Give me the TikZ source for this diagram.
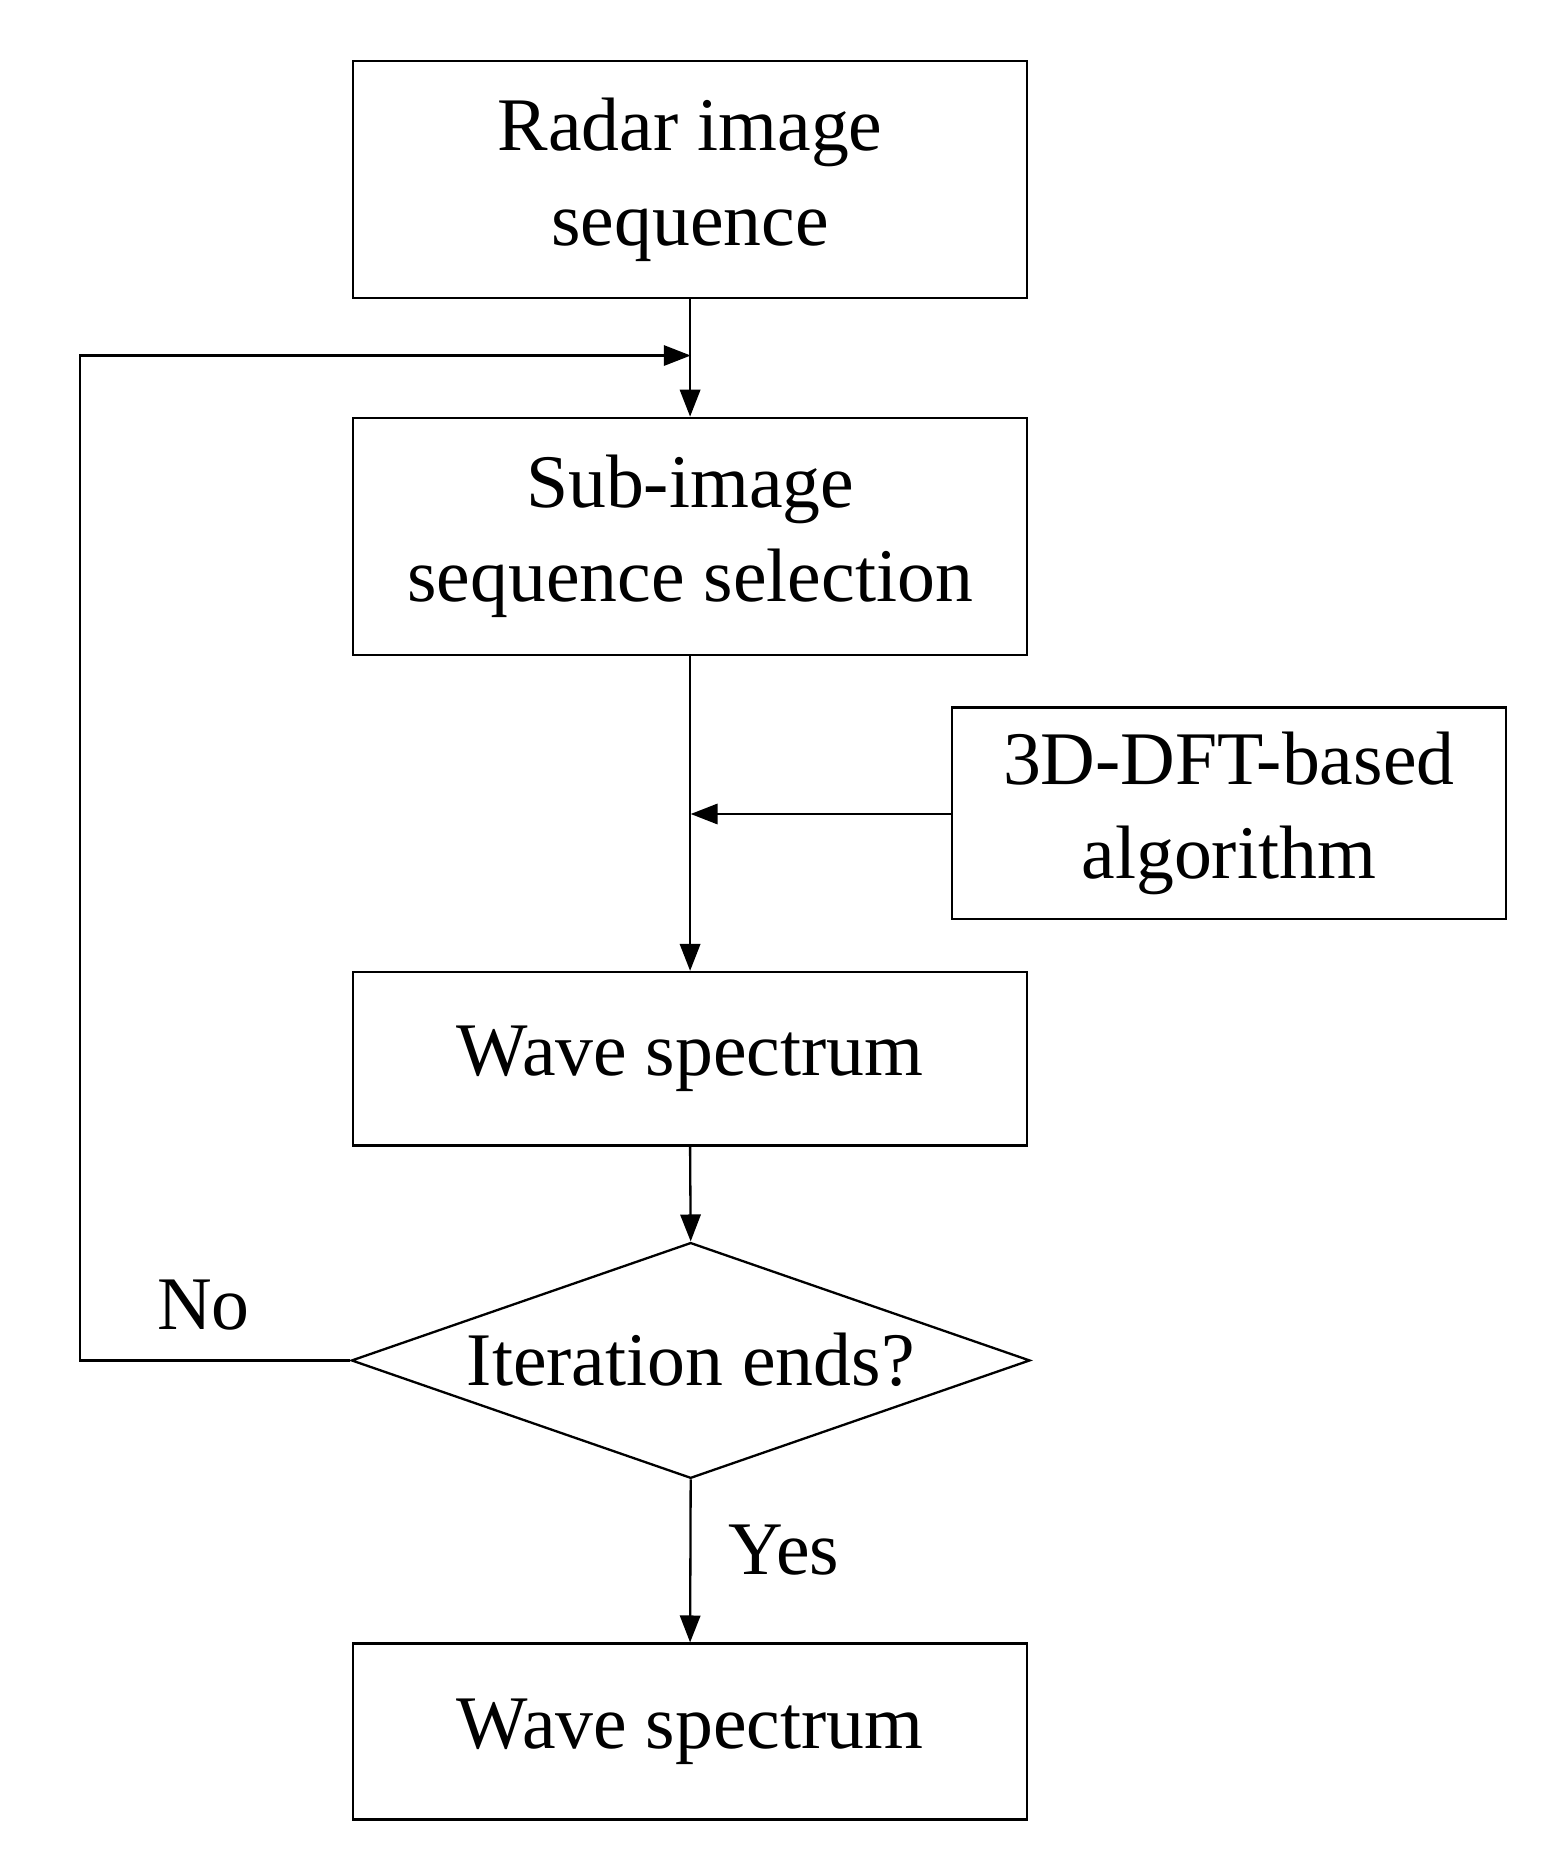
\documentclass[tikz,border=0pt]{standalone}
\usepackage{fontspec}
\setmainfont{Liberation Serif}
\usetikzlibrary{shapes.geometric,arrows.meta}
\begin{document}
\begin{tikzpicture}[x=0.02cm,y=-0.02cm,
  box/.style={draw,line width=1.1pt,inner sep=0pt,align=center,font=\fontsize{36}{45}\selectfont},
  lbl/.style={font=\fontsize{36}{45}\selectfont},
  arr/.style={line width=1.1pt,-{Triangle[length=0.45cm,width=0.34cm]}},
  ln/.style={line width=1.1pt}]
\useasboundingbox (0,0) rectangle (1301,1553);
\node[box,minimum width=11.26cm,minimum height=3.96cm] (b1) at (576.5,150) {Radar image\\sequence};
\node[box,minimum width=11.26cm,minimum height=3.96cm] (b2) at (576.5,448) {Sub-image\\sequence selection};
\node[box,minimum width=9.26cm,minimum height=3.54cm] (b3d) at (1026.5,679.5) {3D-DFT-based\\algorithm};
\node[box,minimum width=11.26cm,minimum height=2.9cm] (b3) at (576.5,884.5) {Wave spectrum};
\node[diamond,draw,line width=1.1pt,inner sep=0pt,minimum width=11.34cm,minimum height=3.94cm] (d) at (577,1136.5) {};
\node[lbl] (dt) at (577,1136) {Iteration ends?};
\node[box,minimum width=11.26cm,minimum height=2.94cm] (b4) at (576.5,1446.5) {Wave spectrum};
\coordinate (j1) at (577,297);
\coordinate (j2) at (577,680);
\coordinate (c1) at (67,1136.5);
\coordinate (c2) at (67,297);
\draw[arr] (b1.south) -- (b2.north);
\draw[arr] (b2.south) -- (b3.north);
\draw[arr] (b3d.west |- j2) -- (j2);
\draw[arr] (b3.south) -- (d.north);
\draw[arr] (d.south) -- (b4.north);
\draw[arr] (d.west) -- (c1) -- (c2) -- (j1);
\node[lbl] (no) at (170,1090) {No};
\node[lbl] (yes) at (655,1295) {Yes};
\end{tikzpicture}
\end{document}
